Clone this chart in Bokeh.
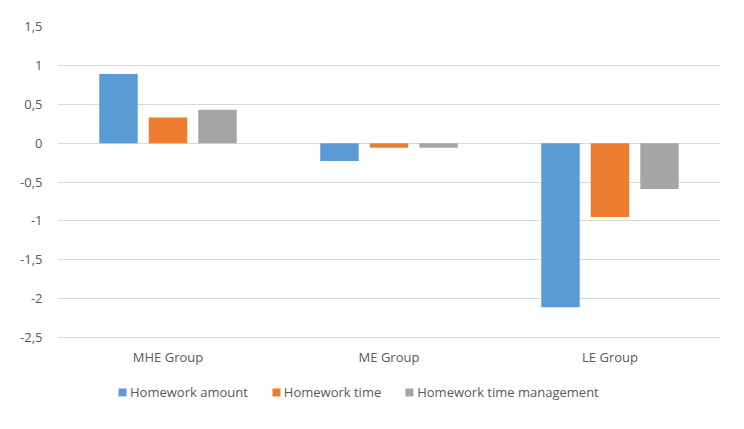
from bokeh.plotting import figure
from bokeh.models import FactorRange, FixedTicker, ColumnDataSource, Legend, LegendItem, Range1d
from bokeh.transform import dodge
from bokeh.embed import file_html
from bokeh.resources import INLINE

groups = ["MHE Group", "ME Group", "LE Group"]
series_names = ["Homework amount", "Homework time", "Homework time management"]
homework_amount = [0.89, -0.23, -2.11]
homework_time = [0.33, -0.06, -0.95]
homework_time_management = [0.43, -0.06, -0.59]
colors = ["#5B9BD5", "#ED7D31", "#A5A5A5"]
y_ticks = [-2.5, -2, -1.5, -1, -0.5, 0, 0.5, 1, 1.5]
y_tick_labels = ["-2,5", "-2", "-1,5", "-1", "-0,5", "0", "0,5", "1", "1,5"]

source = ColumnDataSource(data=dict(
    groups=groups,
    amount=homework_amount,
    time=homework_time,
    mgmt=homework_time_management,
))

FONT = "Open Sans"
TXT = "#595959"

p = figure(width=740, height=425,
           x_range=FactorRange(*groups, range_padding=0),
           y_range=Range1d(-3.565, 1.5),
           output_backend="svg", toolbar_location=None,
           min_border_left=57, min_border_right=20, min_border_top=26,
           min_border_bottom=5)

renderers = []
for key, off, col in zip(["amount", "time", "mgmt"], [-0.224, 0.0, 0.224], colors):
    r = p.vbar(x=dodge("groups", off, range=p.x_range), top=key, bottom=0,
               width=0.174, source=source, fill_color=col, line_color=None)
    renderers.append(r)

p.outline_line_color = None
p.xgrid.grid_line_color = None
p.ygrid.grid_line_color = "#d9d9d9"
p.ygrid.grid_line_width = 1
p.yaxis.ticker = FixedTicker(ticks=y_ticks)
p.yaxis.major_label_overrides = {t: l for t, l in zip(y_ticks, y_tick_labels)}
p.xaxis.fixed_location = -2.5

for ax in (p.xaxis, p.yaxis):
    ax.axis_line_color = None
    ax.major_tick_line_color = None
    ax.minor_tick_line_color = None
    ax.major_tick_out = 0
    ax.major_tick_in = 0
    ax.major_label_text_font = FONT
    ax.major_label_text_font_size = "13px"
    ax.major_label_text_color = TXT
p.yaxis.major_label_standoff = 15
p.xaxis.major_label_standoff = 10

legend = Legend(items=[LegendItem(label=n, renderers=[r]) for n, r in zip(series_names, renderers)],
                orientation="horizontal", location=(60, 19),
                glyph_width=10, glyph_height=10, label_height=14, label_standoff=3, spacing=23,
                label_text_font=FONT, label_text_font_size="13px", label_text_color=TXT,
                border_line_color=None, background_fill_alpha=0,
                margin=0, padding=0)
p.add_layout(legend)

open("out.html", "w").write(file_html(p, INLINE))
